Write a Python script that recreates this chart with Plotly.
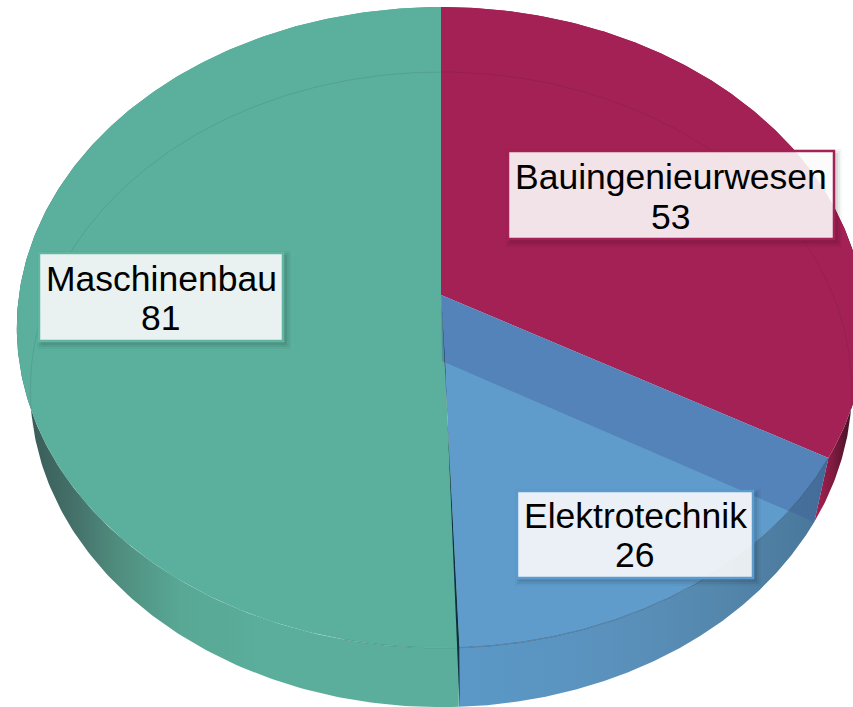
import numpy as np
import plotly.graph_objects as go

# data
categories = ["Bauingenieurwesen", "Elektrotechnik", "Maschinenbau"]
values = [53, 26, 81]

# styles
face_colors = ["#A32155", "#5F9BCB", "#5AB09C"]
wall_scales = [
    [[0, "#A82052"], [0.45, "#7E1A40"], [1, "#30101C"]],
    [[0, "#5B98C7"], [0.4, "#5A92BD"], [0.7, "#5587AD"], [1, "#467597"]],
    [[0, "#3A5C58"], [0.1, "#44706A"], [0.2, "#4F8C7E"], [0.35, "#58A895"], [0.55, "#5AAE9B"], [1, "#5BAE9B"]],
]
wall_spans = [(815, 856), (459, 830), (30, 459)]
box_lines = ["#A32155", "#5B9BD0", "#62B5A2"]
boxes = [(508, 151, 834, 239), (517, 491, 753, 578), (39, 253, 283, 341)]
label_centers = [(671, 177, 217), (635, 516, 555), (161, 279, 318)]

W, H = 853, 707
TOP = dict(cx=441, cy=295, A=317.2, B=422, k=0.1014)
BOT = dict(cx=441, cy=361, A=315, B=409, k=0.09)


def project(theta_deg, g):
    t = np.radians(np.asarray(theta_deg, dtype=float))
    d = 1 + g["k"] * np.cos(t)
    return g["cx"] + g["B"] * np.sin(t) / d, g["cy"] - g["A"] * np.cos(t) / d


edges = np.cumsum([0] + values) / sum(values) * 360.0
fig = go.Figure()


def poly(xs, ys, name, color=None, scale=None, span=None):
    kw = dict(fillcolor=color) if scale is None else dict(
        fillgradient=dict(type="horizontal", colorscale=scale, start=span[0], stop=span[1]))
    fig.add_trace(go.Scatter(x=xs, y=ys, name=name, mode="lines", fill="toself",
                             line=dict(width=0, color="rgba(0,0,0,0)"),
                             hoverinfo="skip", showlegend=False, **kw))


def line(xs, ys, color, name):
    fig.add_trace(go.Scatter(x=xs, y=ys, name=name, mode="lines",
                             line=dict(width=1, color=color),
                             hoverinfo="skip", showlegend=False))


# side walls
for i, cat in enumerate(categories):
    th = np.linspace(edges[i], edges[i + 1], 240)
    xt, yt = project(th, TOP)
    xb, yb = project(th, BOT)
    poly(np.r_[xt, xb[::-1]], np.r_[yt, yb[::-1]], cat + " wall",
         scale=wall_scales[i], span=wall_spans[i])

# top faces
for i, cat in enumerate(categories):
    th = np.linspace(edges[i], edges[i + 1], 240)
    xt, yt = project(th, TOP)
    poly(np.r_[TOP["cx"], xt], np.r_[TOP["cy"], yt], cat, color=face_colors[i])

# radial wall seen through the blue slice
xa, ya = project(edges[1], TOP)
xc, yc = project(edges[1], BOT)
poly([TOP["cx"], xa, xc, BOT["cx"] + 1], [TOP["cy"], ya, yc, BOT["cy"]],
     "inner wall", color="rgba(65,95,155,0.4)")

# dark radial wall of the large slice
xa, ya = project(edges[2], TOP)
xc, yc = project(edges[2], BOT)
poly([TOP["cx"], xa, xc + 1, BOT["cx"] + 4], [TOP["cy"], ya, yc, BOT["cy"]],
     "dark wall", color="#0F2E40")

# faint rim lines
line(*project(np.linspace(edges[1], edges[2], 120), TOP), "rgba(20,50,70,0.4)", "rim front blue")
line(*project(np.linspace(edges[2], 192, 40), TOP), "rgba(20,60,60,0.2)", "rim front teal")
th = np.r_[np.linspace(258, 360, 120), np.linspace(0, 104, 120)]
line(*project(th, BOT), "rgba(40,20,40,0.1)", "rim back")

# label boxes
shapes = []
for (x0, y0, x1, y1), lc in zip(boxes, box_lines):
    for grow, alpha in [(5, 0.03), (3, 0.05), (1, 0.07)]:
        shapes.append(dict(type="rect", x0=x0 + 3 - grow, x1=x1 + 3 + grow,
                           y0=y0 + 3 - grow, y1=y1 + 3 + grow, layer="above",
                           fillcolor=f"rgba(0,0,0,{alpha})", line=dict(width=0)))
    shapes.append(dict(type="rect", x0=x0, x1=x1, y0=y0, y1=y1, layer="above",
                       fillcolor="rgba(255,255,255,0.88)",
                       line=dict(color=lc, width=2.5)))

annotations = []
for cat, val, (cx, y1, y2) in zip(categories, values, label_centers):
    for txt, yy in ((cat, y1), (str(val), y2)):
        annotations.append(dict(x=cx, y=yy, text=txt, showarrow=False,
                                xanchor="center", yanchor="middle",
                                font=dict(family="Liberation Sans", size=35.5, color="#000000")))

fig.update_layout(
    width=W, height=H, autosize=False,
    margin=dict(l=0, r=0, t=0, b=0),
    paper_bgcolor="#FFFFFF", plot_bgcolor="#FFFFFF",
    xaxis=dict(range=[0, W], visible=False, fixedrange=True),
    yaxis=dict(range=[H, 0], visible=False, fixedrange=True),
    shapes=shapes, annotations=annotations, showlegend=False,
)
fig.write_html("out.html", config=dict(displayModeBar=False),
               post_script="document.body.style.margin='0';document.body.style.overflow='hidden';")
